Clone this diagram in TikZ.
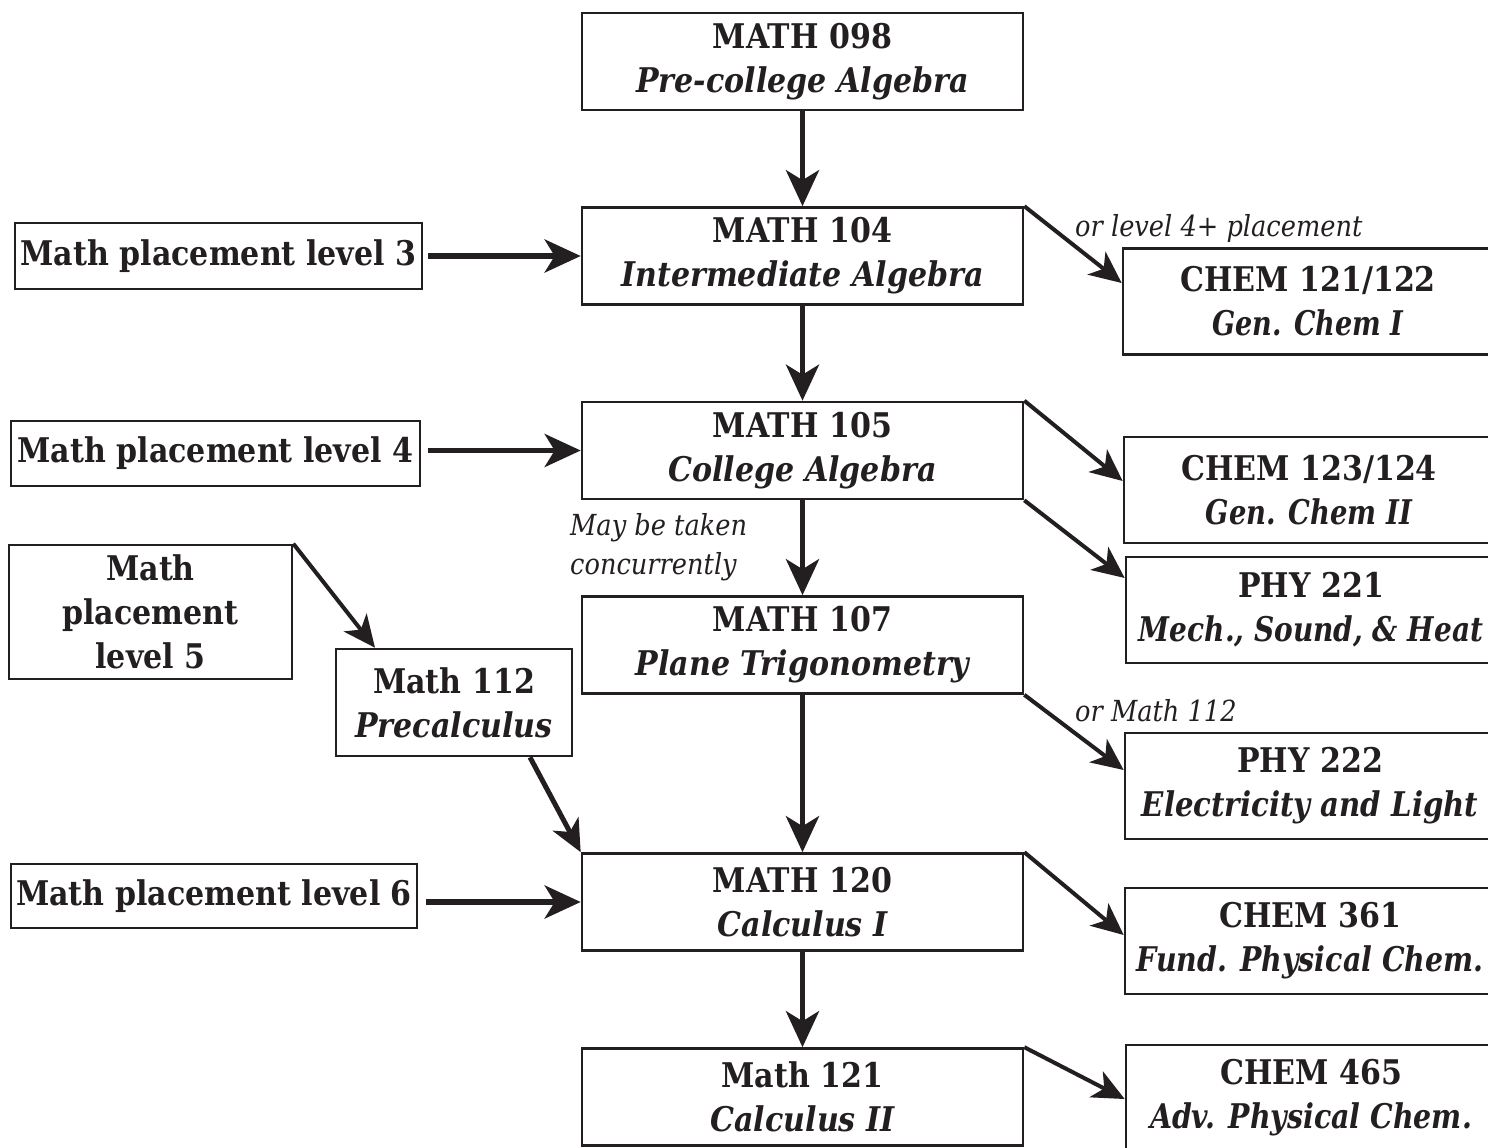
\documentclass[tikz,border=0pt]{standalone}
\usepackage{fontspec}
\usepackage{graphicx}
\setmainfont{DejaVu Serif}[FakeStretch=0.885]
\usetikzlibrary{arrows.meta}
\definecolor{ink}{HTML}{231F20}
\newcommand{\squeeze}[2]{\scalebox{#1}[1]{#2}}
\tikzset{
  box/.style={draw=ink, line width=2.6pt, rectangle, inner sep=0pt, align=center, text=ink,
    font=\fontsize{34}{44}\selectfont\bfseries},
  mathbox/.style={box, minimum width=441pt, minimum height=97pt},
  rbox/.style={box, minimum width=370pt, minimum height=106pt},
  arr/.style={draw=ink, line width=5.5pt, -{Stealth[length=36pt, width=33pt, inset=10pt]}},
  darr/.style={draw=ink, line width=4pt, -{Stealth[length=32pt, width=29pt, inset=9pt]}},
  note/.style={text=ink, anchor=west, inner sep=0pt, align=left,
    font=\fontsize{29}{39}\selectfont\itshape}
}
\begin{document}
\begin{tikzpicture}[x=1pt, y=-1pt]
\useasboundingbox (0,0) rectangle (1488,1148);
\begin{scope}
\clip (0,0) rectangle (1488,1148);
% main column
\node[mathbox] (m098) at (802.5,61.5) {MATH 098\\\itshape Pre-college Algebra};
\node[mathbox] (m104) at (802.5,256) {MATH 104\\\itshape Intermediate Algebra};
\node[mathbox] (m105) at (802.5,450.5) {MATH 105\\\itshape College Algebra};
\node[mathbox] (m107) at (802.5,645) {MATH 107\\\itshape Plane Trigonometry};
\node[mathbox] (m120) at (802.5,902) {MATH 120\\\itshape Calculus I};
\node[mathbox] (m121) at (802.5,1097) {Math 121\\\itshape Calculus II};
% left column
\node[box, minimum width=407pt, minimum height=66pt] (p3) at (218.5,256) {Math placement level 3};
\node[box, minimum width=409pt, minimum height=65pt] (p4) at (215.5,453.5) {Math placement level 4};
\node[box, minimum width=283pt, minimum height=134pt] (p5) at (150.5,612) {Math\\placement\\level 5};
\node[box, minimum width=236pt, minimum height=107pt] (m112) at (454,702.5) {Math 112\\\itshape Precalculus};
\node[box, minimum width=406pt, minimum height=64pt] (p6) at (214,896) {Math placement level 6};
% right column
\node[rbox] (c121) at (1308,301.5) {CHEM 121/122\\\itshape\squeeze{0.9}{Gen. Chem I}};
\node[rbox] (c123) at (1309,490) {CHEM 123/124\\\itshape\squeeze{0.91}{Gen. Chem II}};
\node[rbox] (p221) at (1311,610) {PHY 221\\\itshape\squeeze{0.93}{Mech., Sound, \& Heat}};
\node[rbox] (p222) at (1310,786) {PHY 222\\\itshape\squeeze{0.97}{Electricity and Light}};
\node[rbox] (c361) at (1310,941) {CHEM 361\\\itshape\squeeze{0.945}{Fund. Physical Chem.}};
\node[rbox] (c465) at (1311,1098) {CHEM 465\\\itshape\squeeze{0.945}{Adv. Physical Chem.}};
% notes
\node[note] (n1) at (1075,228) {or level 4+ placement};
\node[note] (n2) at (570,547.5) {May be taken\\concurrently};
\node[note] (n3) at (1075,711) {or Math 112};
% vertical arrows
\draw[arr] (m098.south) -- (m104.north);
\draw[arr] (m104.south) -- (m105.north);
\draw[arr] (m105.south) -- (m107.north);
\draw[arr] (m107.south) -- (m120.north);
\draw[arr] (m120.south) -- (m121.north);
% horizontal arrows
\draw[arr, shorten <=5pt] (p3.east) -- (m104.west);
\draw[arr, shorten <=7pt] (p4.east |- m105.west) -- (m105.west);
\draw[arr, shorten <=8pt] (p6.east |- m120.west) -- (m120.west);
% diagonal arrows
\draw[darr] (p5.north east) -- ([xshift=-79pt]m112.north);
\draw[darr, line width=5pt] ([xshift=76pt]m112.south) -- (m120.north west);
\draw[darr] (m104.north east) -- ([yshift=18.5pt]c121.west);
\draw[darr] (m105.north east) -- ([yshift=9pt]c123.west);
\draw[darr] (m105.south east) -- ([yshift=32pt]p221.west);
\draw[darr] (m107.south east) -- ([yshift=16pt]p222.west);
\draw[darr] (m120.north east) -- ([yshift=6pt]c361.west);
\draw[darr] (m121.north east) -- ([yshift=-1pt]c465.west);
\end{scope}
\end{tikzpicture}
\end{document}
